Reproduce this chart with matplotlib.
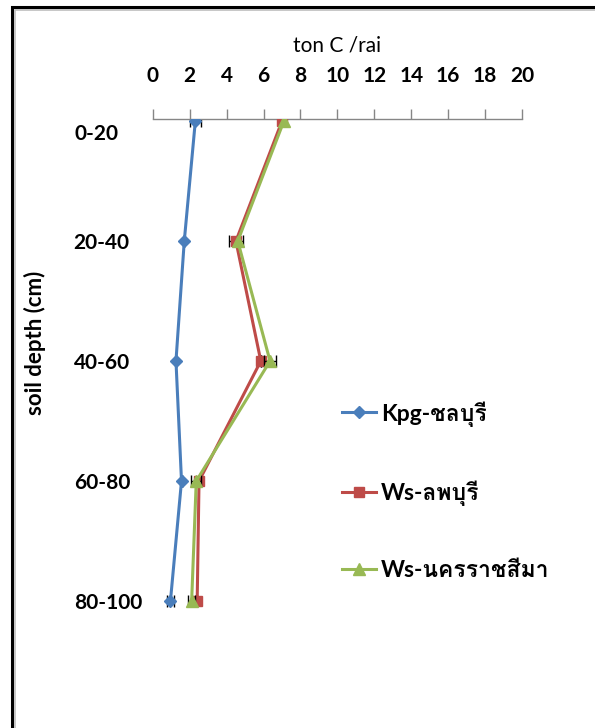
import matplotlib
matplotlib.use("Agg")
import matplotlib.pyplot as plt
import matplotlib.transforms as mtransforms
from matplotlib import font_manager
from matplotlib.ft2font import FT2Font
from matplotlib.patches import Rectangle

# look for an installed family that carries Thai glyphs
thai_fams = []
for f in font_manager.fontManager.ttflist:
    try:
        if 0x0E0A in FT2Font(f.fname).get_charmap() and f.name not in thai_fams:
            thai_fams.append(f.name)
    except Exception:
        pass
plt.rcParams['font.family'] = ['Lato'] + thai_fams + ['DejaVu Sans']

depths = ['0-20', '20-40', '40-60', '60-80', '80-100']
kpg = [2.3, 1.7, 1.25, 1.55, 0.95]
kpg_err = [0.3, 0, 0, 0, 0.2]
ws_lop = [7.0, 4.5, 5.85, 2.5, 2.4]
ws_lop_err = [0, 0.4, 0, 0, 0]
ws_nak = [7.1, 4.6, 6.35, 2.35, 2.1]
ws_nak_err = [0, 0, 0.35, 0.27, 0.2]
names = ['Kpg-ชลบุรี', 'Ws-ลพบุรี', 'Ws-นครราชสีมา']
xticks = list(range(0, 21, 2))

fig = plt.figure(figsize=(5.95, 7.28), dpi=100)
ax = fig.add_axes([0.257, 0.092, 0.62, 0.7445])

pos = list(range(len(depths)))
series = [(kpg, kpg_err, '#4A7EBB', 'D', 6.5),
          (ws_lop, ws_lop_err, '#BE4B48', 's', 7),
          (ws_nak, ws_nak_err, '#98B954', '^', 8)]
for i, (vals, err, col, mk, ms) in enumerate(series):
    ax.errorbar(vals, pos, xerr=err, fmt='none', ecolor='black', elinewidth=1,
                capsize=4, capthick=1, zorder=2 + i)
    ax.plot(vals, pos, color=col, marker=mk, markersize=ms, linewidth=2.2,
            label=names[i], zorder=3 + i)

ax.set_xlim(0, 20)
ax.set_ylim(4.5, -0.017)
ax.xaxis.tick_top()
ax.xaxis.set_label_position('top')
ax.set_xticks(xticks)
ax.set_xticklabels([str(t) for t in xticks], fontsize=15, fontweight='bold')
ax.tick_params(axis='x', direction='out', length=7, width=1, color='#868686', pad=17)
ax.set_xlabel('ton C /rai', fontsize=15, labelpad=10)

ax.set_yticks(pos)
ax.set_yticklabels(depths, fontsize=15, fontweight='bold')
ax.tick_params(axis='y', length=0, pad=57)
for lab in ax.get_yticklabels():
    lab.set_ha('left')
first = ax.get_yticklabels()[0]
first.set_transform(first.get_transform() +
                    mtransforms.ScaledTranslation(0.01, -0.11, fig.dpi_scale_trans))

ax.set_ylabel('soil depth (cm)', fontsize=16, fontweight='bold')
ax.yaxis.set_label_coords(-0.29, 0.587)

for s in ['left', 'right', 'bottom']:
    ax.spines[s].set_visible(False)
ax.spines['top'].set_color('#868686')
ax.spines['top'].set_linewidth(1)

ax.legend(loc='upper left', bbox_to_anchor=(342 / 595, 1 - 401 / 728),
          bbox_transform=fig.transFigure, frameon=False, borderpad=0,
          borderaxespad=0, handlelength=1.5, handletextpad=0.2,
          labelspacing=2.35, prop={'size': 16.5, 'weight': 'bold'})

# outer frame of the pasted chart
fig.patches.append(Rectangle((12 / 595, -0.1), 1.2, 1 - 7 / 728 + 0.1,
                             transform=fig.transFigure, fill=False,
                             edgecolor='black', linewidth=2.2))
fig.patches.append(Rectangle((15 / 595, -0.1), 1.2, 1 - 10 / 728 + 0.1,
                             transform=fig.transFigure, fill=False,
                             edgecolor='#bdbdbd', linewidth=1.2))

fig.savefig('out.png', dpi=100)
